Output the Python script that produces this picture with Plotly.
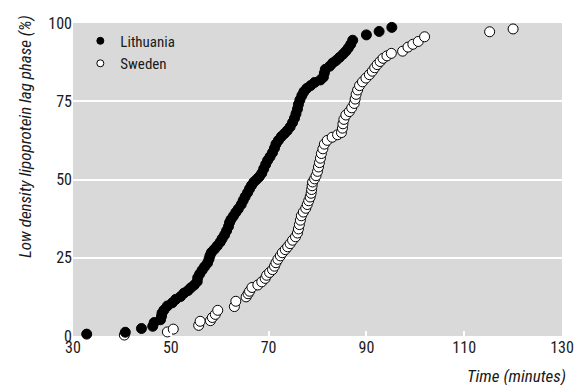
import plotly.graph_objects as go

lith_time = [32.8, 40.7, 44.0, 46.3, 46.6, 47.9, 48.1, 48.2, 48.6, 49.3, 50.3, 51.0, 52.0, 52.7, 53.5,
             54.1, 54.8, 55.4, 55.5, 55.9, 56.4, 56.9, 57.5, 57.8, 58.0, 58.3, 58.9, 59.5, 60.1, 60.5,
             61.0, 61.4, 61.8, 62.0, 62.3, 62.8, 63.3, 63.8, 64.4, 64.8, 65.2, 65.7, 66.1, 66.5, 67.0,
             67.6, 68.1, 68.6, 69.0, 69.4, 69.8, 70.3, 70.8, 71.2, 71.5, 72.0, 72.6, 73.2, 73.8, 74.4,
             74.9, 75.3, 75.6, 75.9, 76.1, 76.4, 76.8, 77.2, 77.8, 78.6, 79.4, 80.6, 81.2, 81.4, 81.6,
             82.5, 83.1, 83.8, 84.5, 85.2, 85.8, 86.3, 86.8, 87.2, 90.0, 92.6, 95.2]
lith_pct = [0.6, 1.2, 2.4, 3.1, 4.3, 5.2, 6.3, 7.3, 8.3, 9.6, 10.6, 11.7, 12.6, 13.7, 14.5,
            15.4, 16.3, 17.4, 18.6, 19.8, 21.0, 22.1, 23.3, 24.5, 25.6, 26.7, 27.7, 28.8, 30.0, 31.1,
            32.3, 33.6, 35.0, 36.2, 37.2, 38.3, 39.5, 40.6, 42.0, 43.3, 44.5, 45.8, 47.0, 48.1, 49.2,
            50.1, 50.9, 52.0, 53.4, 54.8, 56.1, 57.3, 58.6, 60.0, 61.3, 62.5, 63.7, 64.6, 65.6, 66.8,
            68.2, 69.6, 71.0, 72.5, 74.0, 75.4, 76.8, 78.0, 79.1, 80.0, 81.0, 81.8, 82.7, 84.0, 85.2,
            86.2, 87.2, 88.0, 89.0, 90.0, 91.0, 92.0, 93.2, 94.5, 96.2, 97.3, 98.6]

swe_time = [40.5, 49.3, 50.5, 55.7, 56.0, 58.1, 58.5, 59.1, 59.6, 63.0, 63.3, 65.4, 65.8, 66.1, 66.6,
            67.8, 68.6, 69.3, 69.6, 70.2, 70.8, 71.2, 71.5, 71.9, 72.4, 72.8, 73.4, 73.9, 74.4, 74.9,
            75.5, 75.9, 76.1, 76.3, 76.5, 76.7, 77.1, 77.6, 77.9, 78.2, 78.5, 78.7, 78.8, 78.9, 79.0,
            79.4, 79.7, 80.0, 80.2, 80.4, 80.6, 80.8, 81.1, 81.4, 82.0, 83.0, 84.1, 84.9, 85.1, 85.2,
            85.4, 85.8, 86.5, 87.0, 87.5, 87.7, 87.9, 88.2, 88.6, 89.2, 89.9, 90.6, 91.2, 91.7, 92.2,
            92.8, 93.4, 94.2, 95.1, 97.4, 98.5, 99.5, 100.6, 101.9, 115.2, 120.0]
swe_pct = [0.3, 1.3, 2.2, 3.4, 4.7, 4.9, 5.9, 6.9, 8.2, 9.4, 11.1, 12.5, 13.5, 14.3, 15.5,
           16.3, 17.3, 18.4, 19.4, 20.3, 21.2, 22.3, 23.4, 24.5, 25.6, 26.6, 27.6, 28.5, 29.5, 30.6,
           31.7, 32.9, 34.2, 35.6, 37.0, 38.4, 39.6, 40.8, 42.0, 43.2, 44.4, 45.6, 46.8, 48.0, 49.2,
           50.2, 51.2, 52.6, 54.0, 55.4, 56.8, 58.3, 59.8, 61.3, 62.5, 63.5, 64.3, 65.0, 66.4, 67.8,
           69.2, 70.6, 71.7, 72.9, 74.3, 75.7, 77.2, 78.6, 80.0, 81.2, 82.4, 83.5, 84.6, 85.7, 86.7,
           87.7, 88.7, 89.5, 90.3, 91.0, 92.3, 93.2, 94.1, 95.6, 97.2, 98.1]

x_ticks = [30, 50, 70, 90, 110, 130]
y_ticks = [0, 25, 50, 75, 100]

FONT = "Liberation Sans Narrow, Arial Narrow, Roboto Condensed, Liberation Sans, sans-serif"
TXT = "#1a1a1a"

fig = go.Figure()
# data traces (Sweden drawn first so Lithuania sits on top)
fig.add_trace(go.Scatter(
    x=swe_time, y=swe_pct, mode="markers", name="Sweden", cliponaxis=False, showlegend=False,
    marker=dict(size=10, color="white", line=dict(color="black", width=1)),
))
fig.add_trace(go.Scatter(
    x=lith_time, y=lith_pct, mode="markers", name="Lithuania", cliponaxis=False, showlegend=False,
    marker=dict(size=10, color="black", line=dict(color="black", width=1)),
))
# legend entries with smaller symbols
fig.add_trace(go.Scatter(
    x=[None], y=[None], mode="markers", name="Lithuania",
    marker=dict(size=7, color="black", line=dict(color="black", width=1)),
))
fig.add_trace(go.Scatter(
    x=[None], y=[None], mode="markers", name="Sweden",
    marker=dict(size=7, color="white", line=dict(color="black", width=1)),
))

fig.update_layout(
    width=578, height=385,
    margin=dict(l=73, r=16, t=23, b=49),
    paper_bgcolor="white", plot_bgcolor="#d9d9d9",
    font=dict(family=FONT, size=16, color=TXT),
    showlegend=True,
    legend=dict(x=0.015, y=0.995, xanchor="left", yanchor="top", bgcolor="rgba(0,0,0,0)",
                font=dict(size=15, color=TXT), itemsizing="trace", tracegroupgap=0,
                itemwidth=30),
    xaxis=dict(range=[30, 130], tickvals=x_ticks, ticktext=[str(v) for v in x_ticks],
               showgrid=False, zeroline=False, showline=False, automargin=False,
               ticks="inside", ticklen=5, tickwidth=2, tickcolor="white",
               tickfont=dict(size=16, color=TXT)),
    yaxis=dict(range=[0, 100], tickvals=y_ticks, ticktext=[str(v) for v in y_ticks],
               showgrid=True, gridcolor="white", gridwidth=2, zeroline=False, showline=False,
               automargin=False, ticks="", tickfont=dict(size=16, color=TXT)),
)

fig.add_annotation(text="<i>Time (minutes)</i>", xref="paper", yref="paper",
                   x=1.012, y=-0.128, xanchor="right", yanchor="middle", showarrow=False,
                   font=dict(size=17, family=FONT, color=TXT))
fig.add_annotation(text="<i>Low density lipoprotein lag phase (%)</i>", xref="paper", yref="paper",
                   x=-0.098, y=0.636, xanchor="center", yanchor="middle", textangle=-90,
                   showarrow=False, font=dict(size=17, family=FONT, color=TXT))

fig.write_html("out.html")
